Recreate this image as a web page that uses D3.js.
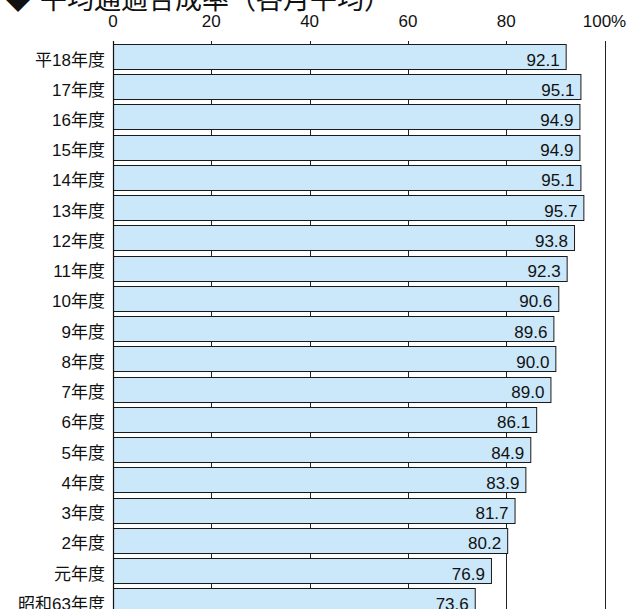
<!DOCTYPE html>
<html>
<head>
<meta charset="utf-8">
<script src="https://cdn.jsdelivr.net/npm/d3@7"></script>
<style>
  html, body { margin: 0; padding: 0; background: #fff; }
  svg { display: block; }
  text { font-family: "Liberation Sans", Arial, "Noto Sans CJK JP", sans-serif; fill: #111; }
</style>
</head>
<body>
<script>
// Fiscal years, newest first
const categories = ["平18年度","17年度","16年度","15年度","14年度","13年度","12年度","11年度","10年度","9年度","8年度","7年度","6年度","5年度","4年度","3年度","2年度","元年度","昭和63年度"];
// Rate (%) for each fiscal year
const values = [92.1, 95.1, 94.9, 94.9, 95.1, 95.7, 93.8, 92.3, 90.6, 89.6, 90.0, 89.0, 86.1, 84.9, 83.9, 81.7, 80.2, 76.9, 73.6];
// Axis ticks
const tickValues = [0, 20, 40, 60, 80, 100];
const tickLabels = ["0", "20", "40", "60", "80", "100%"];
const titleText = "平均通過合成率（各月平均）";

const W = 631, H = 609;
const svg = d3.select("body").append("svg").attr("width", W).attr("height", H);

const x = d3.scaleLinear().domain([0, 100]).range([113, 604.5]);
const y = d3.scaleBand().domain(categories).range([41.4, 41.4 + categories.length * 30.24])
  .paddingInner(0.173).paddingOuter(0.0865);

const gridTop = 41, gridBottom = H + 10;

// Title (runs off the top edge)
svg.append("text").attr("x", 5).attr("y", 9).attr("font-size", 26).text("◆");
svg.append("text").attr("x", 40).attr("y", 9).attr("font-size", 27)
  .style("font-family", "'Noto Sans CJK JP', sans-serif").text(titleText);

// Vertical grid lines behind the bars
svg.append("g").selectAll("line").data(tickValues.slice(1)).join("line")
  .attr("x1", d => Math.round(x(d)) + 0.5).attr("x2", d => Math.round(x(d)) + 0.5)
  .attr("y1", gridTop).attr("y2", gridBottom)
  .attr("stroke", "#222").attr("stroke-width", 1);

// Top axis labels
svg.append("g").selectAll("text").data(tickValues).join("text")
  .attr("x", d => x(d)).attr("y", 27)
  .attr("text-anchor", "middle").attr("font-size", 17)
  .text((d, i) => tickLabels[i]);

// Bars
svg.append("g").selectAll("rect").data(values).join("rect")
  .attr("x", x(0) + 0.5)
  .attr("y", (d, i) => Math.round(y(categories[i])) + 0.5)
  .attr("width", d => x(d) - x(0))
  .attr("height", y.bandwidth())
  .attr("fill", "#cbe7fa").attr("stroke", "#1a1a1a").attr("stroke-width", 1);

// Value labels inside bar ends
svg.append("g").selectAll("text").data(values).join("text")
  .attr("x", d => x(d) - 6)
  .attr("y", (d, i) => y(categories[i]) + y.bandwidth() / 2 + 9)
  .attr("text-anchor", "end").attr("font-size", 17)
  .text(d => d.toFixed(1));

// Category labels
svg.append("g").selectAll("text").data(categories).join("text")
  .attr("x", 105)
  .attr("y", d => y(d) + y.bandwidth() / 2 + 9)
  .attr("text-anchor", "end").attr("font-size", 17)
  .text(d => d);

// Zero axis line
svg.append("line")
  .attr("x1", Math.round(x(0)) + 0.5).attr("x2", Math.round(x(0)) + 0.5)
  .attr("y1", gridTop).attr("y2", gridBottom)
  .attr("stroke", "#111").attr("stroke-width", 1.2);
</script>
</body>
</html>
